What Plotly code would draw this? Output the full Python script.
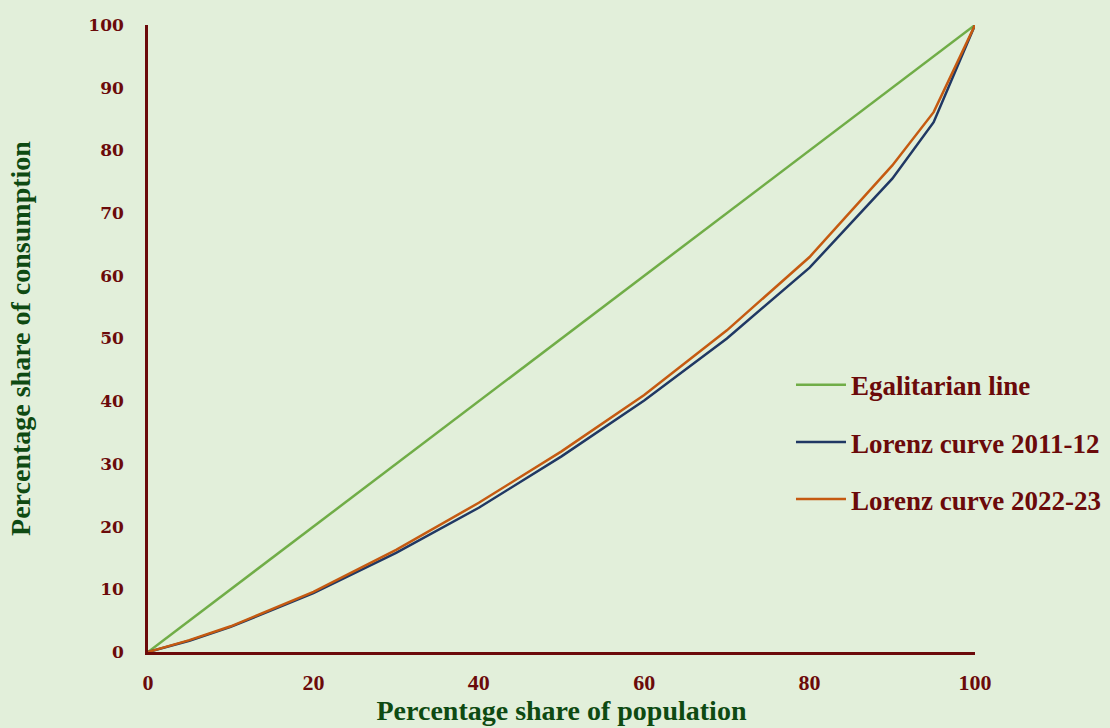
import plotly.graph_objects as go

population = [0, 5, 10, 20, 30, 40, 50, 60, 70, 80, 90, 95, 100]
egalitarian = [0, 5, 10, 20, 30, 40, 50, 60, 70, 80, 90, 95, 100]
lorenz_2011 = [0, 1.8, 4.0, 9.4, 15.8, 23.0, 31.2, 40.1, 50.0, 61.3, 75.5, 84.5, 100]
lorenz_2022 = [0, 1.9, 4.1, 9.6, 16.3, 23.8, 32.0, 41.0, 51.3, 63.0, 77.6, 86.1, 100]
y_ticks = [0, 10, 20, 30, 40, 50, 60, 70, 80, 90, 100]
x_ticks = [0, 20, 40, 60, 80, 100]

BG = "#E2EFDA"
AXIS = "#6B0A0A"
TITLE = "#0E4A12"
FONT = "Liberation Serif"

fig = go.Figure()
fig.add_trace(go.Scatter(x=population, y=egalitarian, mode="lines", name="Egalitarian line",
                         line=dict(color="#70AD47", width=2.5), legendgroup="a"))
fig.add_trace(go.Scatter(x=population, y=lorenz_2011, mode="lines", name="Lorenz curve 2011-12",
                         line=dict(color="#203864", width=2.5), legendgroup="b"))
fig.add_trace(go.Scatter(x=population, y=lorenz_2022, mode="lines", name="Lorenz curve 2022-23",
                         line=dict(color="#C55A11", width=2.5), legendgroup="c"))

# figure is a little larger than the 1110x728 window so the wide legend and
# the low x-axis title never force plotly to shrink the plot area; the
# overflow is hidden (the reference also clips the title's descenders)
fig.update_layout(
    width=1130, height=740,
    paper_bgcolor=BG, plot_bgcolor=BG,
    margin=dict(l=148, r=155, t=25, b=88),
    font=dict(family=FONT, color=AXIS),
    showlegend=True,
    legend=dict(x=0.7775, y=0.4644, xanchor="left", yanchor="top",
                bgcolor="rgba(0,0,0,0)", tracegroupgap=19, itemwidth=50,
                font=dict(family=FONT, size=27, color=AXIS, weight="bold")),
    xaxis=dict(range=[0, 100], tickvals=x_ticks, showgrid=False, zeroline=False,
               showline=True, linecolor=AXIS, linewidth=2.5, ticks="",
               ticklabelstandoff=9,
               tickfont=dict(family=FONT, size=22, color=AXIS, weight="bold"),
               title=dict(text="Percentage share of population", standoff=6,
                          font=dict(family=FONT, size=28, color=TITLE, weight="bold"))),
    yaxis=dict(range=[0, 100], tickvals=y_ticks, showgrid=False, zeroline=False,
               showline=True, linecolor=AXIS, linewidth=2.5, ticks="",
               ticklabelstandoff=18,
               tickfont=dict(family="DejaVu Serif", size=17, color=AXIS, weight="bold"),
               title=dict(text="Percentage share of consumption", standoff=50,
                          font=dict(family=FONT, size=28, color=TITLE, weight="bold"))),
)

fig.write_html(
    "out.html",
    config={"displayModeBar": False},
    post_script=(
        "document.documentElement.style.overflow='hidden';"
        "document.documentElement.style.background='" + BG + "';"
        "document.body.style.margin='0';document.body.style.overflow='hidden';"
        "document.body.style.background='" + BG + "';"
        "var d=document.getElementById('{plot_id}');"
        "d.style.position='fixed';d.style.left='0px';d.style.top='0px';"
    ),
)
